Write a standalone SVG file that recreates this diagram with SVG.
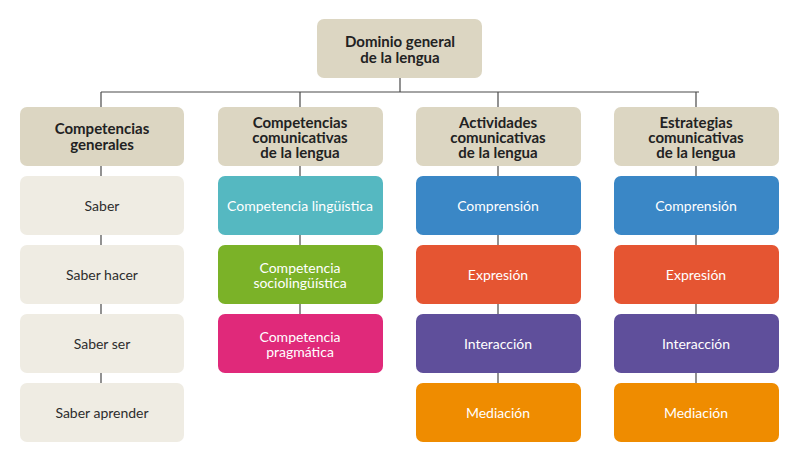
<svg xmlns="http://www.w3.org/2000/svg" width="800" height="465" viewBox="0 0 800 465">
<style>
.hd{fill:#dcd6c2}
.lt{fill:#efece3}
.t{font-family:Lato,"Open Sans","Liberation Sans",sans-serif;font-size:14px;text-anchor:middle}
.bold{font-weight:bold;fill:#222;font-size:15px}
.dk{fill:#2d2d2d}
.wh{fill:#ffffff}
.c{stroke:#4a4a4a;stroke-width:1.2;fill:none}
</style>
<rect width="800" height="465" fill="#ffffff"/>
<g id="connectors">
<path class="c" d="M400 78V92M101 92H699M101 92V107M300 92V107M498 92V107M696 92V107"/>
<path class="c" d="M101 166V176M101 235V245M101 304V314M101 373V383"/>
<path class="c" d="M300 166V176M300 235V245M300 304V314"/>
<path class="c" d="M498 166V176M498 235V245M498 304V314M498 373V383"/>
<path class="c" d="M696 166V176M696 235V245M696 304V314M696 373V383"/>
</g>
<g id="root"><rect class="hd" x="317" y="19" width="165" height="59" rx="7"/><text class="t bold" x="400" y="47">Dominio general</text><text class="t bold" x="400" y="63">de la lengua</text></g>
<g id="h1"><rect class="hd" x="20" y="107" width="164" height="59" rx="7"/><text class="t bold" x="102" y="134">Competencias</text><text class="t bold" x="102" y="150">generales</text></g>
<g id="h2"><rect class="hd" x="218" y="107" width="165" height="59" rx="7"/><text class="t bold" x="300" y="128">Competencias</text><text class="t bold" x="300" y="143">comunicativas</text><text class="t bold" x="300" y="158">de la lengua</text></g>
<g id="h3"><rect class="hd" x="416" y="107" width="165" height="59" rx="7"/><text class="t bold" x="498" y="128">Actividades</text><text class="t bold" x="498" y="143">comunicativas</text><text class="t bold" x="498" y="158">de la lengua</text></g>
<g id="h4"><rect class="hd" x="614" y="107" width="165" height="59" rx="7"/><text class="t bold" x="696" y="128">Estrategias</text><text class="t bold" x="696" y="143">comunicativas</text><text class="t bold" x="696" y="158">de la lengua</text></g>
<g id="c1r1"><rect class="lt" x="20" y="176" width="164" height="59" rx="7"/><text class="t dk" x="102" y="211">Saber</text></g>
<g id="c1r2"><rect class="lt" x="20" y="245" width="164" height="59" rx="7"/><text class="t dk" x="102" y="280">Saber hacer</text></g>
<g id="c1r3"><rect class="lt" x="20" y="314" width="164" height="59" rx="7"/><text class="t dk" x="102" y="349">Saber ser</text></g>
<g id="c1r4"><rect class="lt" x="20" y="383" width="164" height="59" rx="7"/><text class="t dk" x="102" y="418">Saber aprender</text></g>
<g id="c2r1"><rect fill="#55b8c1" x="218" y="176" width="165" height="59" rx="7"/><text class="t wh" x="300" y="211">Competencia lingüística</text></g>
<g id="c2r2"><rect fill="#7bb228" x="218" y="245" width="165" height="59" rx="7"/><text class="t wh" x="300" y="273">Competencia</text><text class="t wh" x="300" y="288">sociolingüística</text></g>
<g id="c2r3"><rect fill="#e0297a" x="218" y="314" width="165" height="59" rx="7"/><text class="t wh" x="300" y="342">Competencia</text><text class="t wh" x="300" y="357">pragmática</text></g>
<g id="c3r1"><rect fill="#3a87c6" x="416" y="176" width="165" height="59" rx="7"/><text class="t wh" x="498" y="211">Comprensión</text></g>
<g id="c3r2"><rect fill="#e55532" x="416" y="245" width="165" height="59" rx="7"/><text class="t wh" x="498" y="280">Expresión</text></g>
<g id="c3r3"><rect fill="#5f4f9b" x="416" y="314" width="165" height="59" rx="7"/><text class="t wh" x="498" y="349">Interacción</text></g>
<g id="c3r4"><rect fill="#ef8c00" x="416" y="383" width="165" height="59" rx="7"/><text class="t wh" x="498" y="418">Mediación</text></g>
<g id="c4r1"><rect fill="#3a87c6" x="614" y="176" width="165" height="59" rx="7"/><text class="t wh" x="696" y="211">Comprensión</text></g>
<g id="c4r2"><rect fill="#e55532" x="614" y="245" width="165" height="59" rx="7"/><text class="t wh" x="696" y="280">Expresión</text></g>
<g id="c4r3"><rect fill="#5f4f9b" x="614" y="314" width="165" height="59" rx="7"/><text class="t wh" x="696" y="349">Interacción</text></g>
<g id="c4r4"><rect fill="#ef8c00" x="614" y="383" width="165" height="59" rx="7"/><text class="t wh" x="696" y="418">Mediación</text></g>
</svg>
